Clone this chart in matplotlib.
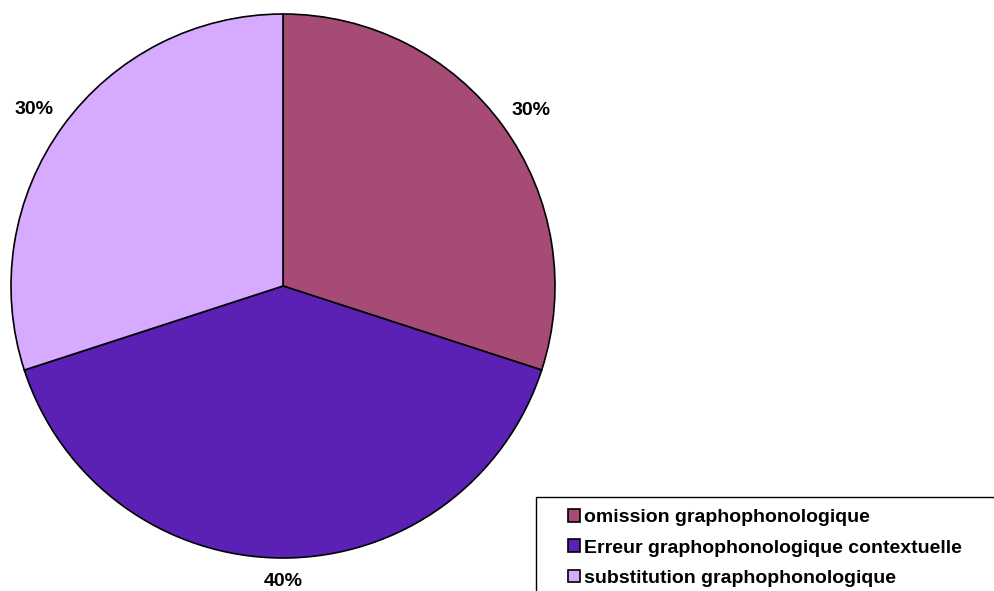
import numpy as np
import matplotlib
matplotlib.use("Agg")
import matplotlib.pyplot as plt
from matplotlib.patches import Rectangle

categories = ["omission graphophonologique",
              "Erreur graphophonologique contextuelle",
              "substitution graphophonologique"]
values = [30, 40, 30]
colors = ["#A64B76", "#5A21B4", "#D6AAFE"]
label_dist = [1.125, 1.072, 1.13]

W, H = 994, 591
fig = plt.figure(figsize=(W / 100, H / 100), dpi=100)
plt.rcParams["font.family"] = ["Liberation Sans", "DejaVu Sans"]

cx, cy, r = 283, H - 286, 272
ax = fig.add_axes([(cx - r) / W, (cy - r) / H, 2 * r / W, 2 * r / H])
wedges, _ = ax.pie(values, colors=colors, startangle=90, counterclock=False,
                   radius=1.0, wedgeprops=dict(edgecolor="black", linewidth=1.2))
ax.set_xlim(-1, 1)
ax.set_ylim(-1, 1)
ax.set_aspect("equal")
ax.axis("off")

total = sum(values)
for w, v, d in zip(wedges, values, label_dist):
    ang = np.deg2rad((w.theta1 + w.theta2) / 2)
    ax.text(d * np.cos(ang), d * np.sin(ang) - 0.008, f"{round(100 * v / total)}%",
            ha="center", va="center_baseline", fontsize=14, fontweight="bold",
            clip_on=False)

# legend frame running off the right and bottom edges
fig.patches.append(Rectangle((536 / W, -0.05), 1.0, (H - 497) / H + 0.05,
                             transform=fig.transFigure, facecolor="white",
                             edgecolor="black", linewidth=1.0, zorder=1))
leg = fig.legend(wedges, categories, loc="upper left",
                 bbox_to_anchor=(568 / W, 1 - 509 / H), frameon=False,
                 prop=dict(weight="bold", size=14),
                 handlelength=0.62, handleheight=0.62, handletextpad=0.22,
                 labelspacing=0.68, borderpad=0, borderaxespad=0)
leg.set_zorder(2)

fig.savefig("out.png", dpi=100)
